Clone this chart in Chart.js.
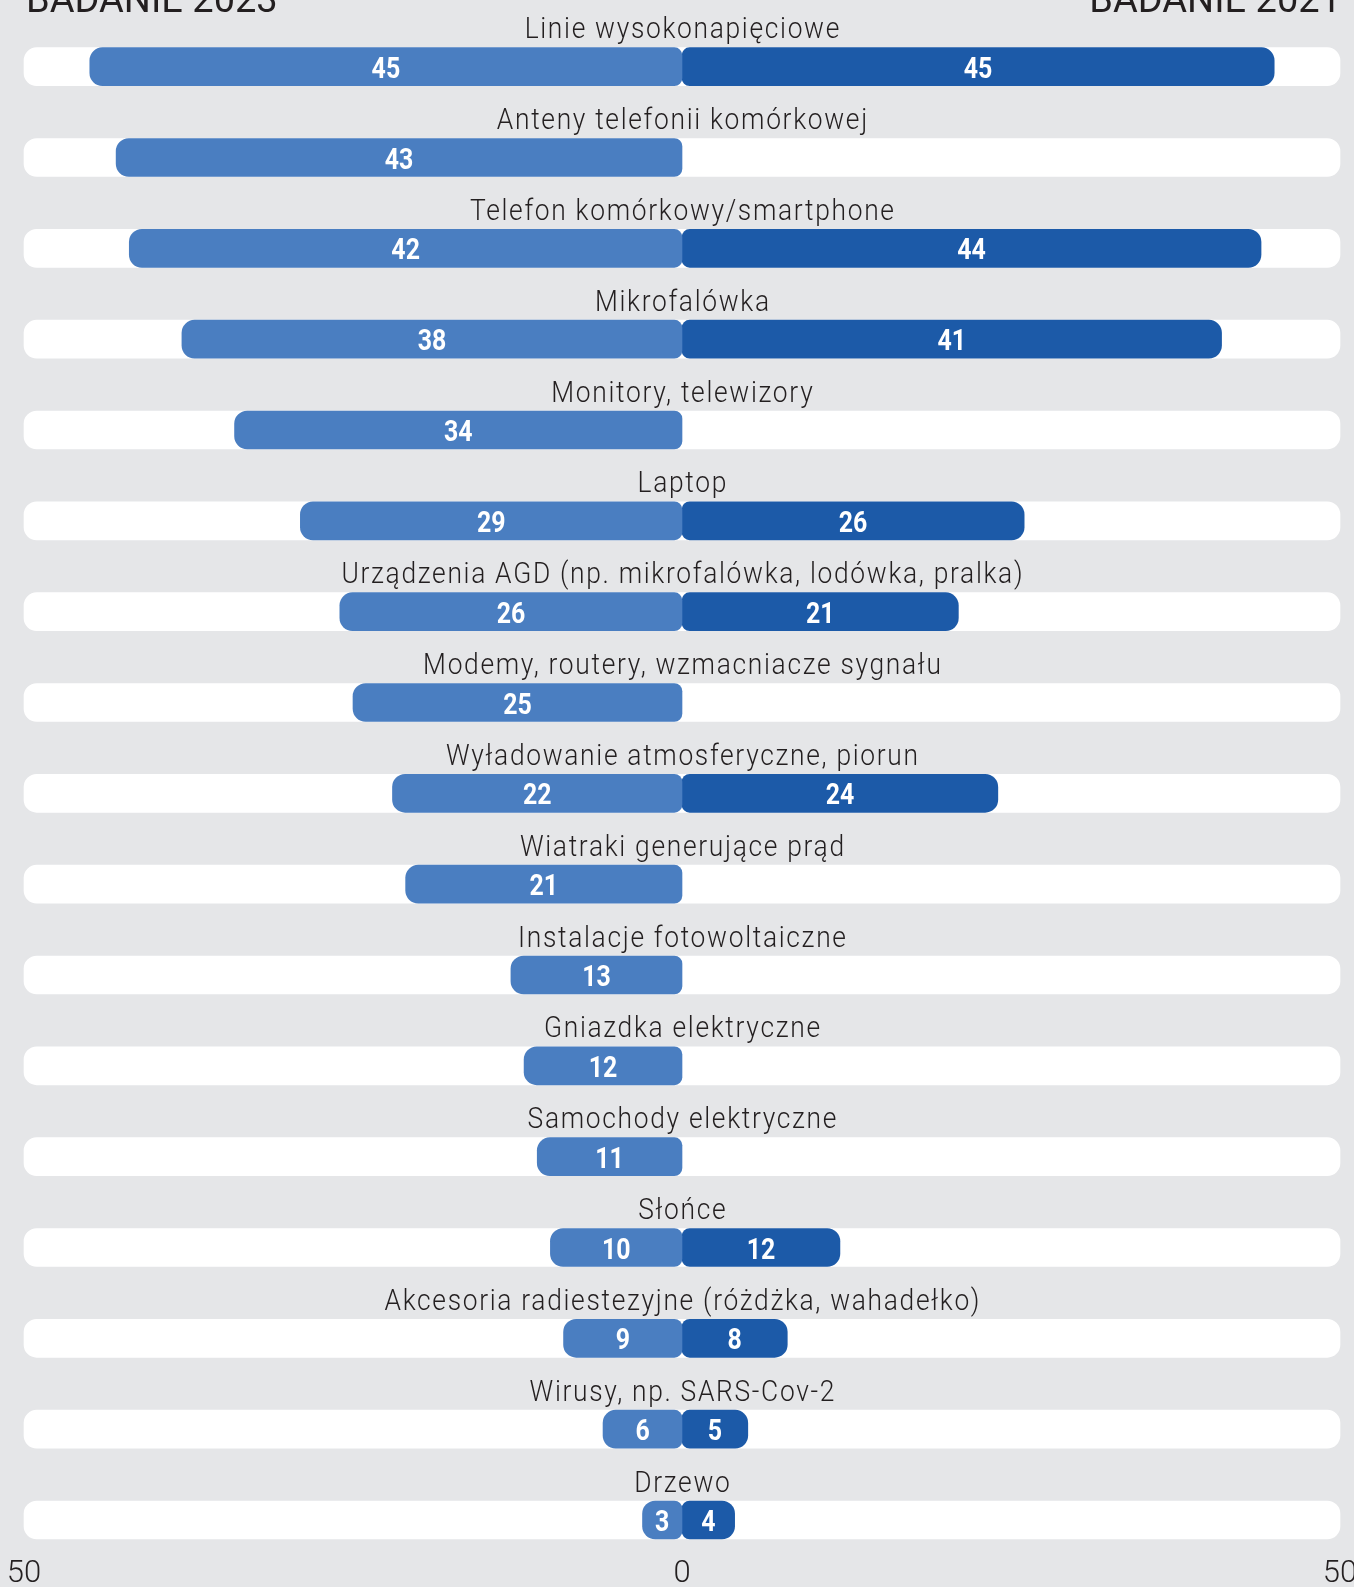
<!DOCTYPE html>
<html lang="pl">
<head>
<meta charset="utf-8">
<title>Źródła promieniowania</title>
<script src="https://cdn.jsdelivr.net/npm/chart.js@4.4.1/dist/chart.umd.min.js"></script>
<style>
  html, body { margin: 0; padding: 0; background: #e5e6e8; }
  #wrap { position: relative; width: 1354px; height: 1587px; }
</style>
</head>
<body>
<div id="wrap"><canvas id="chart"></canvas></div>
<script>
// Categories, top to bottom
const categories = [
  'Linie wysokonapięciowe',
  'Anteny telefonii komórkowej',
  'Telefon komórkowy/smartphone',
  'Mikrofalówka',
  'Monitory, telewizory',
  'Laptop',
  'Urządzenia AGD (np. mikrofalówka, lodówka, pralka)',
  'Modemy, routery, wzmacniacze sygnału',
  'Wyładowanie atmosferyczne, piorun',
  'Wiatraki generujące prąd',
  'Instalacje fotowoltaiczne',
  'Gniazdka elektryczne',
  'Samochody elektryczne',
  'Słońce',
  'Akcesoria radiestezyjne (różdżka, wahadełko)',
  'Wirusy, np. SARS-Cov-2',
  'Drzewo'
];

// Percent of answers in each survey (null = not asked that year)
const survey2023 = [45, 43, 42, 38, 34, 29, 26, 25, 22, 21, 13, 12, 11, 10, 9, 6, 3];
const survey2021 = [45, null, 44, 41, null, 26, 21, null, 24, null, null, null, null, 12, 8, 5, 4];

const seriesTitles = ['BADANIE 2023', 'BADANIE 2021'];
const axisLimit = 50;
const tickValues = [-50, 0, 50];

const COLOR_2023 = '#4a7ec1';
const COLOR_2021 = '#1c5aa8';
const TEXT = '#231f20';
const LABEL_FONT = '300 30px Roboto, "Noto Sans", sans-serif';
const VALUE_FONT = 'bold 30px Roboto, "Noto Sans", sans-serif';
const TITLE_FONT = '400 38px Roboto, "Noto Sans", sans-serif';

// 2023 grows to the left of zero, 2021 to the right
const leftBars = survey2023.map(v => v == null ? null : [-v, 0]);
const rightBars = survey2021.map(v => v == null ? null : [0, v]);
const tracks = categories.map(() => [-axisLimit, axisLimit]);

const OUTER_R = 13, INNER_R = 8;

// draws text squeezed horizontally (narrow, condensed look)
function narrowText(ctx, text, x, y, squeeze, spacing) {
  ctx.save();
  ctx.translate(x, y);
  ctx.scale(squeeze, 1);
  if ('letterSpacing' in ctx) ctx.letterSpacing = spacing + 'px';
  ctx.fillText(text, spacing / 2, 0);
  ctx.restore();
}

const overlayPlugin = {
  id: 'overlay',
  afterDatasetsDraw(chart) {
    const ctx = chart.ctx;
    const xs = chart.scales.x, ys = chart.scales.y;
    const zeroX = xs.getPixelForValue(0);
    ctx.save();

    // category captions above each track
    ctx.font = LABEL_FONT;
    ctx.fillStyle = TEXT;
    ctx.textAlign = 'center';
    ctx.textBaseline = 'alphabetic';
    categories.forEach((c, i) => {
      narrowText(ctx, c, zeroX, ys.getPixelForValue(i) - 28.5, 0.88, 1.9);
    });

    // values centred inside the bars
    ctx.font = VALUE_FONT;
    ctx.fillStyle = '#ffffff';
    [0, 1].forEach(di => {
      const meta = chart.getDatasetMeta(di);
      const src = di === 0 ? survey2023 : survey2021;
      meta.data.forEach((el, i) => {
        if (src[i] == null) return;
        const cx = (el.x + el.base) / 2;
        narrowText(ctx, String(src[i]), cx, el.y + 11, 0.83, 0);
      });
    });

    // survey titles in the top corners
    ctx.font = TITLE_FONT;
    ctx.fillStyle = TEXT;
    ctx.textAlign = 'left';
    ctx.fillText(seriesTitles[0], 26, 12);
    ctx.textAlign = 'right';
    ctx.fillText(seriesTitles[1], 1341, 12);
    ctx.restore();
  }
};

new Chart(document.getElementById('chart'), {
  type: 'bar',
  data: {
    labels: categories,
    datasets: [
      {
        label: seriesTitles[0],
        data: leftBars,
        backgroundColor: COLOR_2023,
        borderSkipped: false,
        borderRadius: { topLeft: OUTER_R, bottomLeft: OUTER_R, topRight: INNER_R, bottomRight: INNER_R },
        order: 1
      },
      {
        label: seriesTitles[1],
        data: rightBars,
        backgroundColor: COLOR_2021,
        borderSkipped: false,
        borderRadius: { topLeft: INNER_R, bottomLeft: INNER_R, topRight: OUTER_R, bottomRight: OUTER_R },
        order: 1
      },
      {
        label: 'tło',
        data: tracks,
        backgroundColor: '#ffffff',
        borderSkipped: false,
        borderRadius: OUTER_R,
        order: 5
      }
    ]
  },
  options: {
    indexAxis: 'y',
    responsive: true,
    maintainAspectRatio: false,
    devicePixelRatio: 1,
    animation: false,
    events: [],
    layout: { padding: { top: 66.7, left: 24, right: 14, bottom: 0 } },
    datasets: {
      bar: { grouped: false, barThickness: 38, clip: false, borderWidth: 0 }
    },
    plugins: {
      legend: { display: false },
      tooltip: { enabled: false }
    },
    scales: {
      x: {
        type: 'linear',
        min: -axisLimit,
        max: axisLimit,
        afterBuildTicks(scale) { scale.ticks = tickValues.map(v => ({ value: v })); },
        afterFit(scale) { scale.height = 67; scale.paddingLeft = 0; scale.paddingRight = 0; },
        grid: { display: false, drawTicks: false },
        border: { display: false },
        ticks: {
          padding: 36,
          maxRotation: 0,
          autoSkip: false,
          color: TEXT,
          font: { family: 'Roboto', weight: '300', size: 31 },
          callback: v => String(Math.abs(v))
        }
      },
      y: {
        type: 'category',
        display: false,
        offset: false,
        grid: { offset: false }
      }
    }
  },
  plugins: [overlayPlugin]
});
</script>
</body>
</html>
